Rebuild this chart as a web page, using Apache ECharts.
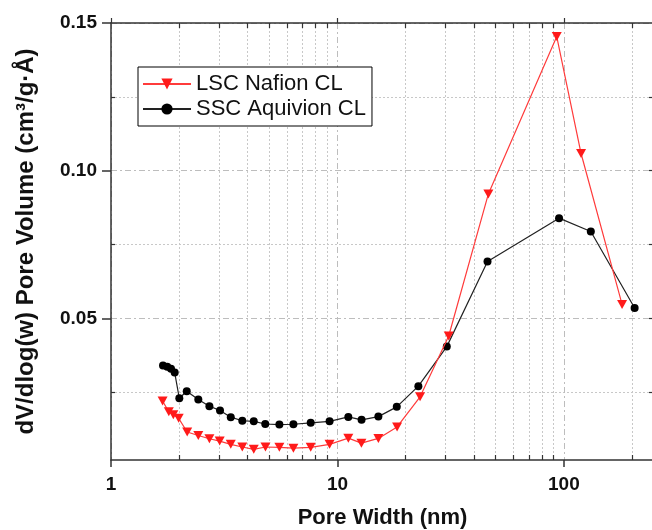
<!DOCTYPE html>
<html>
<head>
<meta charset="utf-8">
<script src="https://cdn.jsdelivr.net/npm/echarts@6/dist/echarts.min.js"></script>
<style>
  html, body { margin: 0; padding: 0; background: #fff; }
  #chart { width: 652px; height: 530px; }
</style>
</head>
<body>
<div id="chart"></div>
<script>
// Pore size distributions of the two catalyst layers
const lscName = 'LSC Nafion CL';
const lscX = [1.69, 1.80, 1.885, 1.99, 2.17, 2.43, 2.72, 3.02, 3.38, 3.80, 4.27, 4.81, 5.54, 6.39, 7.62, 9.23, 11.17, 12.76, 15.16, 18.34, 23.17, 31.0, 46.4, 93.0, 119.1, 180.7];
const lscY = [0.0220, 0.0183, 0.0173, 0.0161, 0.0115, 0.0103, 0.0092, 0.0084, 0.0073, 0.0064, 0.0056, 0.0064, 0.0063, 0.0060, 0.0063, 0.0073, 0.0094, 0.0077, 0.0093, 0.0132, 0.0234, 0.0440, 0.0921, 0.1454, 0.1058, 0.0547];

const sscName = 'SSC Aquivion CL';
const sscX = [1.697, 1.772, 1.841, 1.911, 2.003, 2.16, 2.43, 2.72, 3.03, 3.38, 3.80, 4.27, 4.80, 5.54, 6.39, 7.62, 9.23, 11.17, 12.78, 15.16, 18.28, 22.77, 30.4, 46.0, 95.2, 131.5, 205.3];
const sscY = [0.0340, 0.0336, 0.0329, 0.0316, 0.0229, 0.0253, 0.0225, 0.0202, 0.0188, 0.0165, 0.0153, 0.0151, 0.0142, 0.0140, 0.0141, 0.0146, 0.0151, 0.0166, 0.0156, 0.0167, 0.0200, 0.0270, 0.0404, 0.0692, 0.0839, 0.0794, 0.0535];

// Axis ticks
const xMajor = [1, 10, 100];
const xMinor = [2, 3, 4, 5, 6, 7, 8, 9, 20, 30, 40, 50, 60, 70, 80, 90, 200];
const yMajor = [0.05, 0.10, 0.15];
const yMinor = [0.025, 0.075, 0.125];
const yAll = [0.025, 0.05, 0.075, 0.10, 0.125];

const X_MIN = 1, X_MAX = 250, Y_MIN = 0.002, Y_MAX = 0.15;
const FONT = '"Liberation Sans", Arial, sans-serif';
const AXIS_COLOR = '#333';

const pairs = (xs, ys) => xs.map((x, i) => [x, ys[i]]);

function xAxisBase(position) {
  return {
    type: 'log', logBase: 10, min: X_MIN, max: X_MAX, position: position,
    axisLine: { show: false, lineStyle: { color: AXIS_COLOR, width: 1.5 } },
    axisTick: { show: false },
    axisLabel: { show: false },
    splitLine: { show: false },
    minorTick: { show: false }, minorSplitLine: { show: false }
  };
}
function yAxisBase(position) {
  return {
    type: 'value', min: Y_MIN, max: Y_MAX, position: position,
    axisLine: { show: false, lineStyle: { color: AXIS_COLOR, width: 1.5 } },
    axisTick: { show: false },
    axisLabel: { show: false },
    splitLine: { show: false }
  };
}

const chart = echarts.init(document.getElementById('chart'), null, { renderer: 'canvas' });

const option = {
  animation: false,
  backgroundColor: '#fff',
  textStyle: { fontFamily: FONT },
  grid: { left: 111, top: 23, width: 543, bottom: 70, containLabel: false, outerBoundsMode: 'none' },
  legend: {
    orient: 'vertical', left: 138, top: 67,
    padding: [6, 6, 6, 4],
    borderColor: '#000', borderWidth: 1, backgroundColor: '#fff',
    itemWidth: 48, itemHeight: 14, itemGap: 3,
    textStyle: { fontSize: 22, color: '#111', fontFamily: FONT, lineHeight: 22 },
    data: [lscName, sscName]
  },
  xAxis: [
    Object.assign(xAxisBase('bottom'), {
      axisLine: { show: true, lineStyle: { color: AXIS_COLOR, width: 1.5 } },
      axisTick: { show: true, customValues: xMajor, inside: false, length: 7, lineStyle: { color: AXIS_COLOR, width: 1.5 } },
      axisLabel: { show: true, customValues: xMajor, margin: 15, fontSize: 19, fontWeight: 'bold', color: '#111', fontFamily: FONT },
      splitLine: { show: true, lineStyle: { color: '#bdbdbd', width: 1, type: [6, 3, 2, 3] } },
      name: 'Pore Width (nm)', nameLocation: 'middle', nameGap: 47,
      nameTextStyle: { fontSize: 22, fontWeight: 'bold', color: '#111', fontFamily: FONT }
    }),
    Object.assign(xAxisBase('bottom'), {
      axisTick: { show: true, customValues: xMinor, inside: true, length: 5, lineStyle: { color: AXIS_COLOR, width: 1.2 } },
      splitLine: { show: true, lineStyle: { color: '#c8c8c8', width: 1, type: [2, 2] } }
    }),
    Object.assign(xAxisBase('top'), {
      axisLine: { show: true, lineStyle: { color: AXIS_COLOR, width: 1.5 } },
      axisTick: { show: true, customValues: xMinor, inside: true, length: 5, lineStyle: { color: AXIS_COLOR, width: 1.2 } }
    }),
    Object.assign(xAxisBase('top'), {
      axisTick: { show: true, customValues: xMajor, inside: false, length: 5, lineStyle: { color: AXIS_COLOR, width: 1.2 } }
    })
  ],
  yAxis: [
    Object.assign(yAxisBase('left'), {
      axisLine: { show: true, lineStyle: { color: AXIS_COLOR, width: 1.5 } },
      axisTick: { show: true, customValues: yMajor, inside: false, length: 9, lineStyle: { color: AXIS_COLOR, width: 1.5 } },
      axisLabel: { show: true, customValues: yMajor, margin: 14, fontSize: 19, fontWeight: 'bold', color: '#111', fontFamily: FONT,
        formatter: v => v.toFixed(2) },
      splitLine: { show: true, lineStyle: { color: '#bdbdbd', width: 1, type: [6, 3, 2, 3] } },
      name: 'dV/dlog(w) Pore Volume (cm³/g·Å)', nameLocation: 'middle', nameGap: 73,
      nameTextStyle: { fontSize: 24, fontWeight: 'bold', color: '#111', fontFamily: FONT }
    }),
    Object.assign(yAxisBase('left'), {
      axisTick: { show: true, customValues: yMinor, inside: true, length: 4, lineStyle: { color: AXIS_COLOR, width: 1.2 } },
      splitLine: { show: true, lineStyle: { color: '#c8c8c8', width: 1, type: [2, 2] } }
    }),
    Object.assign(yAxisBase('right'), {
      axisTick: { show: true, customValues: yAll, inside: true, length: 5, lineStyle: { color: AXIS_COLOR, width: 1.2 } }
    })
  ],
  series: [
    {
      name: lscName, type: 'line', xAxisIndex: 0, yAxisIndex: 0,
      data: pairs(lscX, lscY),
      symbol: 'triangle', symbolRotate: 180, symbolSize: [10, 9],
      itemStyle: { color: '#ff1a1a' },
      lineStyle: { color: '#ff3b3b', width: 1.2 },
      z: 3
    },
    {
      name: sscName, type: 'line', xAxisIndex: 0, yAxisIndex: 0,
      data: pairs(sscX, sscY),
      symbol: 'circle', symbolSize: 8,
      itemStyle: { color: '#000' },
      lineStyle: { color: '#222', width: 1.2 },
      z: 2
    }
  ]
};

chart.setOption(option);
</script>
</body>
</html>
